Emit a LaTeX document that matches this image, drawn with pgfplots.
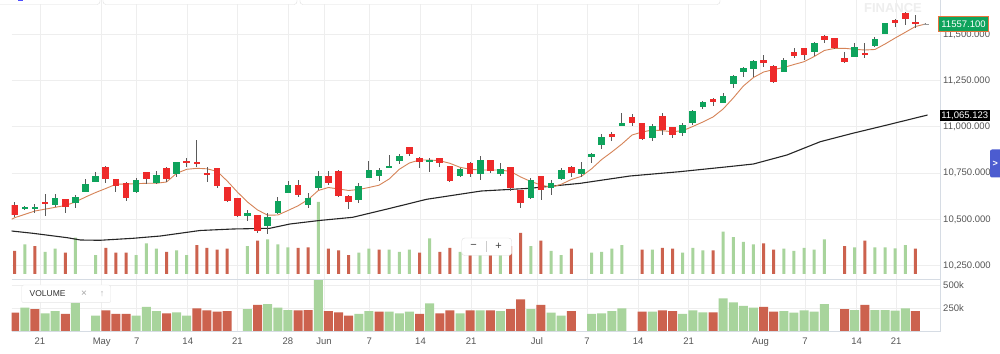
\documentclass[border=0pt]{standalone}
\usepackage{fontspec}
\setmainfont{Liberation Sans}
\usepackage{pgfplots}
\pgfplotsset{compat=1.18}
\usepackage{pgfplotstable}

\definecolor{cgreen}{RGB}{14,163,92}
\definecolor{cred}{RGB}{238,42,42}
\definecolor{vgreen}{RGB}{168,212,156}
\definecolor{vred}{RGB}{204,98,78}
\definecolor{maorange}{RGB}{214,132,88}
\definecolor{gridc}{RGB}{238,238,238}
\definecolor{framec}{RGB}{214,220,228}
\definecolor{labc}{RGB}{85,85,85}
\definecolor{wickc}{RGB}{90,90,90}
\definecolor{tabblue}{RGB}{76,92,208}
\definecolor{tagorange}{RGB}{232,116,59}

% candles: slot, open, high, low, close
\pgfplotstableread{
x o h l c
1 10556 10572 10550 10565
2 10556 10583 10532 10565
4 10577 10635 10568 10614
6 10587 10631 10560 10619
7 10649 10716 10647 10691
8 10703 10754 10701 10736
12 10649 10725 10641 10713
14 10695 10760 10693 10741
16 10743 10810 10730 10808
23 10518 10550 10492 10536
25 10465 10532 10421 10511
26 10532 10622 10527 10601
27 10644 10707 10641 10686
29 10577 10644 10560 10614
30 10668 10761 10658 10736
34 10604 10698 10590 10682
35 10725 10815 10723 10767
36 10736 10776 10709 10767
37 10779 10848 10777 10788
38 10815 10853 10797 10842
41 10808 10833 10757 10821
44 10734 10779 10727 10770
46 10743 10842 10713 10821
48 10743 10803 10734 10770
51 10614 10722 10612 10713
53 10668 10713 10631 10698
54 10716 10776 10713 10767
56 10745 10811 10727 10770
57 10838 10860 10806 10853
58 10902 10960 10878 10947
60 11004 11073 11002 11022
63 10937 11015 10925 11007
66 10965 11023 10950 11010
67 11021 11091 11012 11085
68 11109 11142 11094 11136
70 11131 11181 11129 11167
71 11231 11280 11208 11276
72 11295 11325 11271 11318
73 11311 11359 11271 11357
76 11296 11370 11294 11361
79 11406 11460 11383 11451
83 11379 11455 11376 11433
85 11437 11487 11433 11475
86 11502 11563 11500 11560
}\upc

\pgfplotstableread{
x o h l c
0 10577 10595 10511 10523
3 10594 10635 10518 10583
5 10610 10612 10536 10568
9 10784 10786 10695 10718
10 10716 10718 10649 10680
11 10698 10700 10601 10617
13 10756 10758 10691 10716
15 10779 10781 10703 10716
17 10815 10830 10784 10804
18 10811 10929 10784 10801
19 10752 10784 10703 10740
20 10776 10778 10668 10680
21 10673 10675 10592 10599
22 10614 10616 10511 10518
24 10522 10524 10424 10438
28 10686 10712 10622 10631
31 10736 10761 10686 10698
32 10763 10765 10619 10628
33 10628 10630 10554 10595
39 10889 10891 10844 10853
40 10833 10835 10776 10811
42 10830 10832 10784 10803
43 10788 10790 10703 10707
45 10806 10808 10730 10743
47 10821 10823 10752 10761
49 10781 10783 10655 10668
50 10658 10660 10560 10590
52 10734 10736 10604 10658
55 10784 10786 10727 10752
59 10960 10974 10925 10947
61 11055 11069 11004 11022
62 11019 11021 10929 10933
64 11061 11073 10956 10983
65 10999 11001 10938 10956
69 11149 11156 11113 11134
74 11361 11388 11322 11347
75 11330 11332 11235 11241
77 11404 11426 11370 11384
78 11424 11426 11361 11388
80 11491 11496 11455 11469
81 11478 11480 11419 11424
82 11370 11406 11343 11352
84 11401 11451 11370 11388
87 11577 11581 11541 11563
88 11617 11619 11550 11581
89 11565 11604 11532 11554
}\downc

\pgfplotstableread{
x o h l c
90 11556 11559 11555 11558
}\flatc

\pgfplotstableread{
x y
-0.3 10500.1
0 10508.7
2 10544.9
5 10574.7
6 10593.6
7 10620.6
8 10644.9
9 10666.6
10 10689.3
11 10690.9
12 10692.5
13 10694.7
14 10694.7
15 10701.7
16 10748.7
17 10770.3
18 10775.7
19 10773.0
20 10759.0
21 10707.1
22 10647.6
23 10593.6
24 10550.4
25 10522.2
26 10523.3
27 10547.6
28 10573.1
29 10607.1
30 10655.8
31 10672.0
32 10663.9
33 10655.8
34 10661.2
35 10672.0
36 10684.4
37 10717.9
38 10770.3
39 10804.4
40 10820.6
41 10820.6
42 10816.8
43 10802.8
44 10781.1
45 10770.3
46 10766.5
47 10766.5
48 10766.5
49 10758.4
50 10728.7
51 10704.4
52 10685.5
53 10673.0
54 10689.3
55 10715.2
56 10732.5
57 10773.0
58 10823.3
59 10863.8
60 10907.1
61 10955.7
62 10971.9
63 10982.7
64 10979.0
65 10973.6
66 10979.0
67 11001.7
68 11026.0
69 11053.0
70 11096.3
71 11155.7
72 11220.6
73 11266.5
74 11296.2
75 11309.8
76 11320.6
77 11336.8
78 11351.9
79 11380.0
80 11412.5
81 11423.8
82 11424.3
83 11418.9
84 11415.1
85 11417.9
86 11447.6
87 11480.0
88 11510.8
89 11542.2
90 11555.7
}\orangema

\pgfplotstableread{
x y
-0.3 10436.8
1.8 10424.4
5.2 10400.6
6.5 10388.2
8.4 10386.6
11.7 10397.4
14.4 10409.8
18.3 10439.5
21.6 10447.7
25.2 10451.4
27.2 10474.7
30.1 10493.6
33.4 10510.9
37.1 10559.5
40.7 10608.2
46.1 10653.0
50.9 10667.6
55.9 10694.7
60.8 10734.1
65.7 10757.4
70.7 10785.5
73.0 10799.0
76.3 10847.6
79.6 10919.5
82.8 10964.9
86.2 11009.8
90.2 11063.8
}\blackma

% volume in thousands
\pgfplotstableread{
x v
1 253
3 192
4 217
6 308
8 166
12 166
13 261
14 217
16 203
17 166
23 239
25 293
26 253
27 228
30 598
34 185
35 217
37 210
38 192
39 210
41 301
44 192
46 225
48 217
51 239
53 199
54 166
57 185
58 192
59 217
60 247
63 210
66 185
67 225
68 203
70 355
71 312
72 272
73 253
76 217
77 199
78 225
79 210
80 293
83 228
85 228
86 228
87 221
88 247
}\volg

\pgfplotstableread{
x v
0 199
2 239
5 185
9 225
10 185
11 185
15 192
18 247
19 225
20 210
21 217
24 283
28 225
29 228
31 217
32 203
33 166
36 210
40 185
42 192
43 225
45 225
47 225
49 239
50 345
52 283
55 217
62 210
64 225
65 217
69 203
74 261
75 210
82 239
84 283
89 217
}\volr

\pgfplotsset{
  base/.style={scale only axis, width=928.3pt, xmin=-0.296, xmax=91.43,
    anchor=south west, axis line style={draw=none}, major tick length=0pt},
  dates/.style={xtick={2.5,8.6,12.05,17.1,22.0,27.0,30.56,35.04,40.1,45.1,51.6,56.55,61.6,66.6,73.7,78.1,83.2,87.1}},
}

\begin{document}
\begin{tikzpicture}[x=1pt,y=1pt]
\fill[white] (0,0) rectangle (1000,353);

% ---- main panel grid and price labels
\begin{axis}[base, dates, at={(11.7pt,74pt)}, height=279pt,
  ymin=10177.4, ymax=11685.4,
  ytick={10250,10500,10750,11000,11250,11500},
  yticklabels={10{,}250.000,10{,}500.000,10{,}750.000,11{,}000.000,11{,}250.000,11{,}500.000},
  yticklabel pos=right,
  yticklabel style={font=\fontsize{9.5}{10}\selectfont, text=labc, anchor=west, inner xsep=3pt},
  xticklabels={},
  xmajorgrids, ymajorgrids, grid style={gridc, line width=0.8pt}]
\addplot[draw=none] coordinates {(0,10500)};
\end{axis}

% ---- volume overlay in main panel
\begin{axis}[base, at={(11.7pt,79pt)}, height=274pt, ymin=12.2, ymax=2234.3, ticks=none]
\addplot[ybar, bar width=3pt, bar shift=0pt, fill=vgreen, draw=none] table[x=x,y=v]{\volg};
\addplot[ybar, bar width=3pt, bar shift=0pt, fill=vred, draw=none] table[x=x,y=v]{\volr};
\end{axis}

% ---- candles and moving averages
\begin{axis}[base, at={(11.7pt,74pt)}, height=279pt, ymin=10177.4, ymax=11685.4, ticks=none]
\addplot[black!85, line width=1.1pt] table[x=x,y=y]{\blackma};
\addplot[maorange, line width=0.9pt] table[x=x,y=y]{\orangema};
% wicks
\addplot[draw=none, error bars/.cd, y dir=both, y explicit, error mark=none,
  error bar style={draw=wickc, line width=0.9pt}]
  table[x=x, y expr={(\thisrow{h}+\thisrow{l})/2}, y error expr={(\thisrow{h}-\thisrow{l})/2}]{\upc};
\addplot[draw=none, error bars/.cd, y dir=both, y explicit, error mark=none,
  error bar style={draw=wickc, line width=0.9pt}]
  table[x=x, y expr={(\thisrow{h}+\thisrow{l})/2}, y error expr={(\thisrow{h}-\thisrow{l})/2}]{\downc};
\addplot[draw=none, error bars/.cd, y dir=both, y explicit, error mark=none,
  error bar style={draw=gray, line width=0.8pt}]
  table[x=x, y expr={(\thisrow{h}+\thisrow{l})/2}, y error expr={(\thisrow{h}-\thisrow{l})/2}]{\flatc};
% bodies
\addplot[draw=none, error bars/.cd, y dir=both, y explicit, error mark=none,
  error bar style={draw=cgreen, line width=6.6pt}]
  table[x=x, y expr={(\thisrow{o}+\thisrow{c})/2}, y error expr={abs(\thisrow{c}-\thisrow{o})/2}]{\upc};
\addplot[draw=none, error bars/.cd, y dir=both, y explicit, error mark=none,
  error bar style={draw=cred, line width=6.6pt}]
  table[x=x, y expr={(\thisrow{o}+\thisrow{c})/2}, y error expr={abs(\thisrow{c}-\thisrow{o})/2}]{\downc};
\addplot[draw=none, error bars/.cd, y dir=both, y explicit, error mark=none,
  error bar style={draw=gray!80, line width=6pt}]
  table[x=x, y expr={(\thisrow{o}+\thisrow{c})/2}, y error expr={abs(\thisrow{c}-\thisrow{o})/2}]{\flatc};
\end{axis}

% ---- volume sub-panel
\begin{axis}[base, dates, at={(11.7pt,22pt)}, height=51pt, ymin=0, ymax=554.4,
  ytick={250,500}, yticklabels={250k,500k},
  yticklabel pos=right,
  yticklabel style={font=\fontsize{9.5}{10}\selectfont, text=labc, anchor=west, inner xsep=3pt},
  xticklabels={21,May,7,14,21,28,Jun,7,14,21,Jul,7,14,21,Aug,7,14,21},
  xticklabel style={font=\fontsize{9.5}{10}\selectfont, text=labc, anchor=north, yshift=-3pt},
  xmajorgrids, ymajorgrids, grid style={gridc, line width=0.8pt}]
\addplot[ybar, bar width=9pt, bar shift=0pt, fill=vgreen, draw=none] table[x=x,y=v]{\volg};
\addplot[ybar, bar width=9pt, bar shift=0pt, fill=vred, draw=none] table[x=x,y=v]{\volr};
\end{axis}

% ---- frames
\draw[framec, line width=0.8pt] (940,353) -- (940,22) -- (11.7,22);
\draw[framec, line width=0.8pt] (11.7,73.7) -- (940,73.7);

% ---- top toolbar remnants
\draw[gray!25, fill=white, rounded corners=3pt] (-5,360) rectangle (100,348.5);
\draw[gray!25, fill=white, rounded corners=3pt] (103,360) rectangle (297,348.5);
\draw[gray!25, fill=white, rounded corners=3pt] (300,360) rectangle (720,348.5);
\fill[blue!70] (18,353) rectangle (22.5,351.5);

% ---- watermark
\node[text=gray!13, font=\fontsize{13}{14}\selectfont\bfseries, inner sep=0pt] at (893,345) {FINANCE};

% ---- price tags
\draw[fill=cgreen, draw=tagorange, line width=0.8pt] (938.5,336.3) rectangle (988.5,322);
\node[text=white, font=\fontsize{9.5}{10}\selectfont, inner sep=0pt] at (963.5,329.2) {11557.100};
\fill[black] (940,243) rectangle (989.5,232);
\node[text=white, font=\fontsize{9.5}{10}\selectfont, inner sep=0pt] at (964.7,237.7) {11,065.123};

% ---- right blue tab
\fill[tabblue, rounded corners=2pt] (990,203.5) rectangle (1003,175.5);
\node[text=white, font=\fontsize{9}{10}\selectfont\bfseries, inner sep=0pt] at (995.3,189.5) {>};

% ---- zoom control
\draw[gray!25, fill=white, rounded corners=3pt] (461.7,115) rectangle (511.7,97.5);
\node[text=black!75, font=\fontsize{11}{12}\selectfont, inner sep=0pt] at (473.5,106.3) {−};
\draw[gray!40, line width=0.6pt] (486.5,112) -- (486.5,101);
\node[text=black!75, font=\fontsize{11}{12}\selectfont, inner sep=0pt] at (498.5,106.5) {+};

% ---- VOLUME legend box
\draw[gray!20, fill=white, rounded corners=2pt] (21.7,68) rectangle (110.7,50.3);
\node[anchor=west, text=black!80, font=\fontsize{8.5}{9}\selectfont, inner sep=0pt] at (29.5,59.3) {VOLUME};
\node[text=gray!70, font=\fontsize{10}{10}\selectfont, inner sep=0pt] at (84,59.3) {×};
\node[text=gray!60, font=\fontsize{9}{10}\selectfont, inner sep=0pt] at (102,59.3) {↑};

\pgfresetboundingbox
\useasboundingbox (0,0) rectangle (1000,353);
\end{tikzpicture}
\end{document}
